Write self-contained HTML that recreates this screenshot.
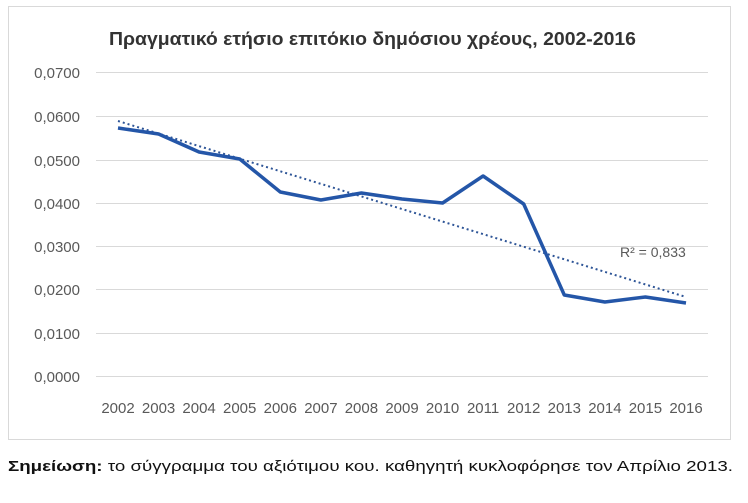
<!DOCTYPE html><html><head><meta charset="utf-8"><style>
body{margin:0;width:748px;height:498px;background:#fff;font-family:"Liberation Sans","DejaVu Sans",sans-serif;overflow:hidden}
</style></head><body>
<svg width="748" height="498" xmlns="http://www.w3.org/2000/svg" font-family="Liberation Sans, DejaVu Sans, sans-serif">
<rect x="8.5" y="6.5" width="722" height="433" fill="#fff" stroke="#d9d9d9"/>
<text x="109" y="45" font-size="18" font-weight="bold" fill="#333" textLength="527" lengthAdjust="spacingAndGlyphs">Πραγματικό ετήσιο επιτόκιο δημόσιου χρέους, 2002-2016</text>
<g stroke="#d9d9d9" stroke-width="1">
<line x1="96" x2="708" y1="72.5" y2="72.5"/><line x1="96" x2="708" y1="116.5" y2="116.5"/><line x1="96" x2="708" y1="160.5" y2="160.5"/><line x1="96" x2="708" y1="203.5" y2="203.5"/><line x1="96" x2="708" y1="246.5" y2="246.5"/><line x1="96" x2="708" y1="289.5" y2="289.5"/><line x1="96" x2="708" y1="333.5" y2="333.5"/><line x1="96" x2="708" y1="376.5" y2="376.5"/>
</g>
<g font-size="15" fill="#595959" text-anchor="end">
<text x="80" y="78">0,0700</text><text x="80" y="122">0,0600</text><text x="80" y="166">0,0500</text><text x="80" y="209">0,0400</text><text x="80" y="252">0,0300</text><text x="80" y="295">0,0200</text><text x="80" y="339">0,0100</text><text x="80" y="382">0,0000</text>
</g>
<g font-size="15" fill="#595959" text-anchor="middle">
<text x="118" y="413">2002</text><text x="158.6" y="413">2003</text><text x="199.1" y="413">2004</text><text x="239.7" y="413">2005</text><text x="280.3" y="413">2006</text><text x="320.9" y="413">2007</text><text x="361.4" y="413">2008</text><text x="402" y="413">2009</text><text x="442.6" y="413">2010</text><text x="483.1" y="413">2011</text><text x="523.7" y="413">2012</text><text x="564.3" y="413">2013</text><text x="604.9" y="413">2014</text><text x="645.4" y="413">2015</text><text x="686" y="413">2016</text>
</g>
<line x1="118" y1="121" x2="686" y2="297" stroke="#2e5597" stroke-width="2" stroke-dasharray="2,3"/>
<polyline fill="none" stroke="#2456a8" stroke-width="3.5" stroke-linejoin="round" points="118,128 158.6,134 199.1,152 239.7,159 280.3,192 320.9,200 361.4,193 402,199 442.6,203 483.1,176 523.7,204 564.3,295 604.9,302 645.4,297 686,303"/>
<text x="620" y="257" font-size="14" fill="#595959">R² = 0,833</text>
<text x="8" y="471" font-size="15" fill="#111" textLength="725" lengthAdjust="spacingAndGlyphs"><tspan font-weight="bold">Σημείωση:</tspan> το σύγγραμμα του αξιότιμου κου. καθηγητή κυκλοφόρησε τον Απρίλιο 2013.</text>
</svg>
</body></html>
